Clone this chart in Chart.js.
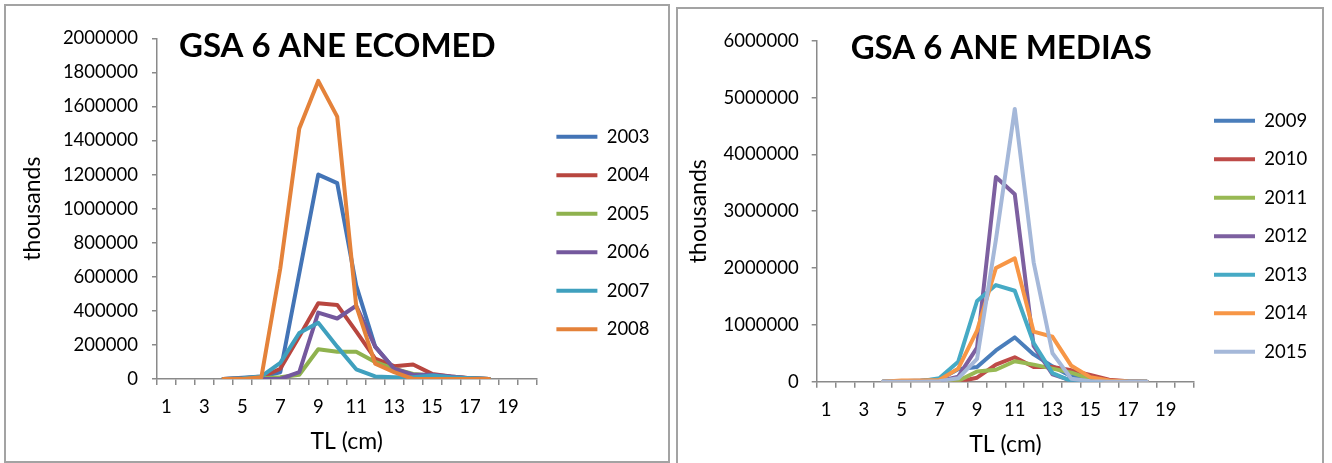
<!DOCTYPE html>
<html><head><meta charset="utf-8">
<script src="https://cdn.jsdelivr.net/npm/chart.js@4.4.0/dist/chart.umd.min.js"></script>
<style>
html,body{margin:0;padding:0;background:#fff;width:1332px;height:463px;overflow:hidden;position:relative}
.frame{position:absolute;box-sizing:border-box;border:2px solid #a3a3a3;pointer-events:none}
canvas{position:absolute;top:0}
</style></head><body>
<div class="frame" style="left:4px;top:4px;width:666px;height:459px"></div>
<div class="frame" style="left:676px;top:7px;width:648px;height:470px"></div>
<canvas id="c1" width="670" height="463" style="left:0"></canvas>
<canvas id="c2" width="662" height="463" style="left:670px"></canvas>
<script>
// ---------- DATA ----------
const categories = ['1','2','3','4','5','6','7','8','9','10','11','12','13','14','15','16','17','18','19','20'];

const ecomedTitle = 'GSA 6 ANE ECOMED';
const mediasTitle = 'GSA 6 ANE MEDIAS';
const xTitle = 'TL (cm)';
const yTitle = 'thousands';

const ecomedYears = ['2003','2004','2005','2006','2007','2008'];
const ecomed2003 = [null,null,null,0,8000,15000,40000,620000,1200000,1150000,550000,190000,60000,20000,20000,10000,5000,0,null,null];
const ecomed2004 = [null,null,null,0,5000,10000,60000,250000,445000,435000,280000,120000,75000,85000,30000,15000,5000,0,null,null];
const ecomed2005 = [null,null,null,0,0,5000,10000,25000,175000,160000,160000,100000,60000,30000,20000,10000,5000,0,null,null];
const ecomed2006 = [null,null,null,0,0,0,0,40000,390000,355000,430000,190000,60000,25000,25000,15000,5000,0,null,null];
const ecomed2007 = [null,null,null,0,5000,15000,95000,270000,330000,190000,57000,15000,10000,10000,20000,10000,5000,0,null,null];
const ecomed2008 = [null,null,null,0,0,10000,650000,1470000,1750000,1540000,430000,90000,40000,0,0,0,0,0,null,null];

const mediasYears = ['2009','2010','2011','2012','2013','2014','2015'];
const medias2009 = [null,null,null,0,10000,20000,40000,220000,260000,550000,780000,480000,270000,90000,30000,10000,0,0,null,null];
const medias2010 = [null,null,null,0,0,0,0,0,70000,300000,430000,260000,260000,200000,120000,35000,10000,0,null,null];
const medias2011 = [null,null,null,0,0,0,10000,15000,180000,210000,360000,300000,230000,160000,50000,10000,0,0,null,null];
const medias2012 = [null,null,null,0,0,0,10000,90000,600000,3600000,3300000,630000,130000,20000,0,0,0,0,null,null];
const medias2013 = [null,null,null,0,0,10000,60000,350000,1420000,1700000,1600000,680000,150000,10000,0,0,0,0,null,null];
const medias2014 = [null,null,null,0,20000,20000,30000,230000,900000,2000000,2170000,880000,790000,280000,80000,20000,5000,0,null,null];
const medias2015 = [null,null,null,0,0,0,10000,60000,400000,2500000,4800000,2100000,500000,50000,10000,0,0,0,null,null];

const ecomedMax = 2000000, ecomedStep = 200000;
const mediasMax = 6000000, mediasStep = 1000000;

// ---------- STYLE ----------
const ecomedColors = ['#4374B6','#B8463F','#8FB24E','#74589D','#3FA0BE','#E4823A'];
const mediasColors = ['#4A7EBB','#BE4B48','#98B954','#7D60A0','#46AAC5','#F79646','#A5B8D9'];
const axisGray = '#8a8a8a';
Chart.defaults.font.family = 'Lato, "Open Sans", sans-serif';
Chart.defaults.color = '#000';

function makeChart(canvasId, title, years, series, colors, yMax, yStep, g) {
  const datasets = years.map((y, i) => ({
    label: y,
    data: series[i],
    borderColor: colors[i],
    backgroundColor: colors[i],
    borderWidth: 4,
    pointRadius: 0,
    pointHoverRadius: 0,
    tension: 0,
    fill: false,
    borderJoinStyle: 'round',
    borderCapStyle: 'round',
    order: years.length - 1 - i
  }));
  return new Chart(document.getElementById(canvasId), {
    type: 'line',
    data: { labels: categories, datasets },
    options: {
      responsive: false,
      animation: false,
      events: [],
      layout: { padding: { left: g.pl, right: g.pr, top: g.pt, bottom: 0 } },
      plugins: {
        tooltip: { enabled: false },
        title: {
          display: true, text: title,
          font: { size: 33, weight: 'bold' }, color: '#000',
          padding: { top: g.tpt, bottom: g.tpb }
        },
        legend: {
          display: true, position: 'right', align: 'center', maxWidth: 118,
          labels: {
            usePointStyle: true, pointStyle: 'line', pointStyleWidth: 41,
            padding: 20, font: { size: 18.5 }, color: '#000',
            sort: (a, b) => a.datasetIndex - b.datasetIndex
          }
        }
      },
      scales: {
        x: {
          type: 'category',
          offset: true,
          afterFit: s => { s.height = g.xh; },
          grid: { display: true, drawOnChartArea: false, drawTicks: true, tickLength: 6, offset: true, color: axisGray, lineWidth: 1.5 },
          border: { display: true, color: axisGray, width: 1.5 },
          ticks: {
            autoSkip: false, maxRotation: 0, padding: g.xtp, font: { size: 18.5 }, color: '#000',
            callback: function(v, i) { return i % 2 === 0 ? this.getLabelForValue(v) : ''; }
          },
          title: { display: true, text: xTitle, font: { size: 23 }, color: '#000', padding: { top: 0, bottom: g.xttp } }
        },
        y: {
          type: 'linear',
          min: 0, max: yMax,
          afterFit: s => { s.width = g.yw; },
          grid: { display: true, drawOnChartArea: false, drawTicks: true, tickLength: 5, color: axisGray, lineWidth: 1.5 },
          border: { display: true, color: axisGray, width: 1.5 },
          ticks: { stepSize: yStep, padding: g.ytp, font: { size: 18.5 }, color: '#000', callback: v => String(v) },
          title: { display: true, text: yTitle, font: { size: 23 }, color: '#000', padding: { top: g.yttp, bottom: 0 } }
        }
      }
    }
  });
}

makeChart('c1', ecomedTitle, ecomedYears,
  [ecomed2003, ecomed2004, ecomed2005, ecomed2006, ecomed2007, ecomed2008],
  ecomedColors, ecomedMax, ecomedStep,
  { pl: 20.2, pr: 15.6, pt: 3, tpt: 23.4, tpb: -27.7, xh: 84, yw: 136.8, xtp: 11.4, xttp: 7.5, ytp: 14, yttp: -1 });

makeChart('c2', mediasTitle, mediasYears,
  [medias2009, medias2010, medias2011, medias2012, medias2013, medias2014, medias2015],
  mediasColors, mediasMax, mediasStep,
  { pl: 20.4, pr: 20, pt: 9.4, tpt: 19.5, tpb: -27.8, xh: 81.3, yw: 126.3, xtp: 11.5, xttp: 4.2, ytp: 13, yttp: -5.3 });
</script></body></html>
